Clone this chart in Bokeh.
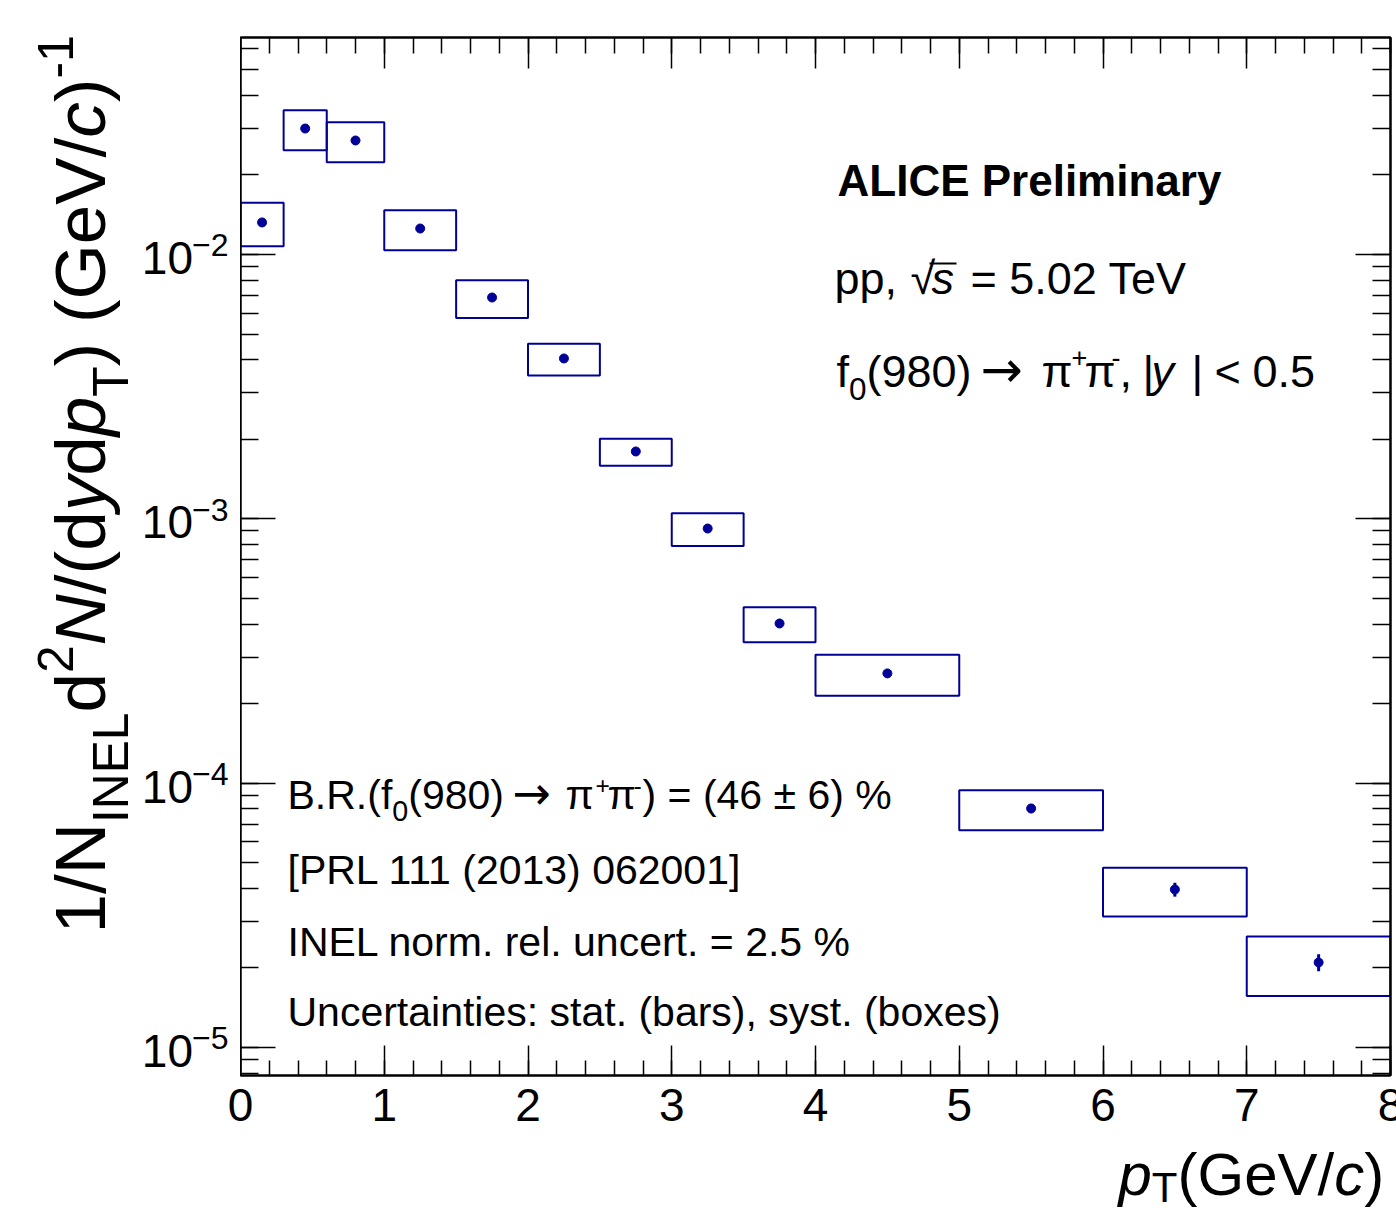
import math
from bokeh.plotting import figure
from bokeh.layouts import row, column
from bokeh.models import (Label, LinearAxis, LogAxis, SingleIntervalTicker,
                          LogTicker, ColumnDataSource, CustomJSTickFormatter,
                          BoxAnnotation)
from bokeh.embed import file_html
from bokeh.resources import INLINE

# ---------------- data ----------------
pt_lo = [0.0, 0.3, 0.6, 1.0, 1.5, 2.0, 2.5, 3.0, 3.5, 4.0, 5.0, 6.0, 7.0]
pt_hi = [0.3, 0.6, 1.0, 1.5, 2.0, 2.5, 3.0, 3.5, 4.0, 5.0, 6.0, 7.0, 8.0]
yield_val = [1.322e-2, 2.996e-2, 2.700e-2, 1.254e-2, 6.875e-3, 4.042e-3,
             1.798e-3, 9.19e-4, 4.018e-4, 2.601e-4, 8.02e-5, 3.96e-5, 2.097e-5]
stat_err = [2.6e-4, 4.5e-4, 4.0e-4, 1.9e-4, 1.0e-4, 6.5e-5,
            3.0e-5, 3.2e-5, 8.0e-6, 5.0e-6, 3.2e-6, 2.4e-6, 1.55e-6]
syst_err = [2.48e-3, 5.16e-3, 4.65e-3, 2.16e-3, 1.12e-3, 5.55e-4,
            2.10e-4, 1.30e-4, 6.07e-5, 4.60e-5, 1.38e-5, 8.3e-6, 5.3e-6]
x_tick_vals = [0, 1, 2, 3, 4, 5, 6, 7, 8]
y_decades = [-5, -4, -3, -2]
X_MIN, X_MAX = 0, 8
Y_MIN, Y_MAX = 7.834e-6, 6.621e-2

BLUE = "#000099"
FONT = "Liberation Sans"
BASE_FIX = 0.38   # empirical baseline correction of Label text (in em)

# Helvetica / Liberation Sans advance widths (em)
W = {' ': .278, '.': .278, ',': .278, ':': .278, '/': .278, '(': .333, ')': .333,
     '[': .278, ']': .278, '=': .584, '+': .584, '-': .333, '<': .584, '|': .26,
     '%': .889, '±': .584, '−': .584, 'π': .55, '→': .838, '√': .55,
     'a': .556, 'b': .556, 'c': .5, 'd': .556, 'e': .556, 'f': .278, 'g': .556,
     'h': .556, 'i': .222, 'j': .222, 'k': .5, 'l': .222, 'm': .833, 'n': .556,
     'o': .556, 'p': .556, 'q': .556, 'r': .333, 's': .5, 't': .278, 'u': .556,
     'v': .5, 'w': .722, 'x': .5, 'y': .5, 'z': .5,
     'A': .667, 'B': .667, 'C': .722, 'D': .722, 'E': .667, 'F': .611, 'G': .778,
     'H': .722, 'I': .278, 'L': .556, 'N': .722, 'P': .667, 'R': .722, 'S': .667,
     'T': .611, 'U': .722, 'V': .667}


def tw(s):
    return sum(W.get(ch, .556) for ch in s)


# ---------------- layout geometry ----------------
TOTAL_W, TOTAL_H = 1396, 1213
LEFT_W = 240
MAIN_W, MAIN_H = TOTAL_W - LEFT_W, 1077
BOTTOM_H = TOTAL_H - MAIN_H
FR_TOP, FR_BOT, FR_RIGHT = 37, 2, 6
FRAME_BOTTOM_PX = MAIN_H - FR_BOT           # 1075 in page pixels
ppu = (MAIN_W - FR_RIGHT) / (X_MAX - X_MIN)
bottom_range = (X_MIN - LEFT_W / ppu, X_MIN + (TOTAL_W - LEFT_W) / ppu)

# ---------------- main figure ----------------
p = figure(width=MAIN_W, height=MAIN_H, x_range=(X_MIN, X_MAX), y_range=(Y_MIN, Y_MAX),
           y_axis_type="log", output_backend="svg", toolbar_location=None,
           min_border_left=0, min_border_right=FR_RIGHT, min_border_top=FR_TOP,
           min_border_bottom=FR_BOT)
p.background_fill_color = "white"
p.border_fill_color = "white"
p.grid.visible = False
p.outline_line_color = "black"
p.outline_line_width = 2


def style_axis(ax, major, minor):
    ax.major_tick_in = major
    ax.major_tick_out = 0
    ax.minor_tick_in = minor
    ax.minor_tick_out = 0
    ax.axis_line_width = 2
    ax.axis_line_color = "black"
    ax.major_tick_line_width = 1.5
    ax.minor_tick_line_width = 1.5
    ax.major_tick_line_color = "black"
    ax.minor_tick_line_color = "black"
    ax.major_label_standoff = 0
    ax.formatter = CustomJSTickFormatter(code="return ''")


xa = p.xaxis[0]
xa.ticker = SingleIntervalTicker(interval=1, num_minor_ticks=5)
style_axis(xa, 30, 15)

ya = p.yaxis[0]
ya.ticker = LogTicker(num_minor_ticks=10)
style_axis(ya, 35, 18)

xt = LinearAxis(ticker=SingleIntervalTicker(interval=1, num_minor_ticks=5))
style_axis(xt, 31, 16)
p.add_layout(xt, "above")

yr = LogAxis(ticker=LogTicker(num_minor_ticks=10))
style_axis(yr, 35, 18)
p.add_layout(yr, "right")

# ---------------- data glyphs ----------------
xc = [(a + b) / 2 for a, b in zip(pt_lo, pt_hi)]
src = ColumnDataSource(dict(
    lo=pt_lo, hi=pt_hi, xc=xc, y=yield_val,
    st=[v + s for v, s in zip(yield_val, syst_err)],
    sb=[v - s for v, s in zip(yield_val, syst_err)],
    eh=[v + s for v, s in zip(yield_val, stat_err)],
    el=[v - s for v, s in zip(yield_val, stat_err)],
))
p.quad(left="lo", right="hi", bottom="sb", top="st", source=src,
       fill_color=None, line_color=BLUE, line_width=2)
p.segment(x0="xc", y0="el", x1="xc", y1="eh", source=src,
          line_color=BLUE, line_width=3)
p.scatter(x="xc", y="y", source=src, size=9, fill_color=BLUE, line_color=BLUE)

# ---------------- side figures (hold the outer texts) ----------------
# left figure: same vertical frame as the main plot (row aligns the frames)
left = figure(width=LEFT_W, height=MAIN_H, x_range=(0, LEFT_W), y_range=(Y_MIN, Y_MAX),
              y_axis_type="log", x_axis_location=None, y_axis_location=None,
              output_backend="svg", toolbar_location=None,
              min_border_left=0, min_border_right=0, min_border_top=FR_TOP,
              min_border_bottom=FR_BOT)
left.grid.visible = False
left.outline_line_color = None

bottom = figure(width=TOTAL_W, height=BOTTOM_H, x_range=bottom_range,
                y_range=(0, BOTTOM_H), x_axis_location=None, y_axis_location=None,
                output_backend="svg", toolbar_location=None, min_border=0)
bottom.grid.visible = False
bottom.outline_line_color = None


# ---------------- text helpers ----------------
def put(fig, text, x, y, size, style="normal", angle=0.0, align="left",
        x_units="screen", y_units="screen", y_offset=0, font=FONT):
    fix = BASE_FIX * size
    xo, yo = (-fix, y_offset) if angle else (0, y_offset + fix)
    fig.add_layout(Label(x=x, y=y, x_units=x_units, y_units=y_units, text=text,
                         text_font=font, text_font_size=f"{size:.1f}px",
                         text_font_style=style, text_color="black", angle=angle,
                         text_align=align, text_baseline="alphabetic",
                         x_offset=xo, y_offset=yo))


def rich(fig, pieces, x0, y0, size, rotated=False):
    cur = y0 if rotated else x0
    for text, opt in pieces:
        scale = opt.get("scale", 1.0)
        shift = opt.get("shift", 0)
        style = opt.get("style", "normal")
        font = opt.get("font", FONT)
        if "at" in opt:
            cur = opt["at"]
        fs = size * scale
        if rotated:
            put(fig, text, x0 - shift, cur, fs, style, angle=math.pi / 2, font=font)
        else:
            put(fig, text, cur, y0 + shift, fs, style, font=font)
        cur += tw(text) * fs


# x tick labels (bottom figure shares the main x mapping)
for v in x_tick_vals:
    put(bottom, str(v), v, TOTAL_H - 1122, 46, align="center", x_units="data")

# y tick labels 10^-n (left figure shares the main y mapping)
for e in y_decades:
    exp_txt = "−" + str(-e)
    put(left, exp_txt, 228, 10.0 ** e, 32, align="right", y_units="data", y_offset=-3)
    put(left, "10", 229 - tw(exp_txt) * 32, 10.0 ** e, 46, align="right",
        y_units="data", y_offset=-21)

# y axis title (screen y measured up from the frame bottom)
IT = {"style": "italic"}
SUB = {"scale": 0.7, "shift": -22}
SUP = {"scale": 0.7, "shift": 33}
rich(left, [("1/N", {}), ("INEL", SUB), ("d", {}), ("2", SUP), ("N", IT),
            ("/(d", {}), ("y", IT), ("d", {}), ("p", IT), ("T", SUB),
            (") (GeV/", {}), ("c", IT), (")", {}), ("-1", SUP)],
     107, FRAME_BOTTOM_PX - 933, 71, rotated=True)

# x axis title
rich(bottom, [("p", IT), ("T", {"scale": 0.7, "shift": -6}), ("(GeV/", {}),
              ("c", IT), (")", {})], 1118, TOTAL_H - 1197, 60)

# top-right block  (screen coords relative to the main frame)
put(p, "ALICE Preliminary", 597, 878, 44, style="bold")
rich(p, [("pp,", {"at": 594}), ("√", {"at": 670}),
         ("s", {"at": 691, "style": "italic"}), ("= 5.02 TeV", {"at": 730})],
     594, 780, 45)
# overline of the square root
p.add_layout(BoxAnnotation(left=689, right=716, bottom=811, top=813,
                           left_units="screen", right_units="screen",
                           bottom_units="screen", top_units="screen",
                           fill_color="black", fill_alpha=1.0, line_color=None))
SUP6 = {"scale": 0.6, "shift": 21}
ARROW = {"font": "DejaVu Sans", "scale": 1.12}
rich(p, [("f", {}), ("0", {"scale": 0.7, "shift": -12}), ("(980)", {}),
         ("→", dict(ARROW, at=740)), ("π", {"at": 801}),
         ("+", dict(SUP6, at=831)), ("π", {"at": 844}), ("-", dict(SUP6, at=871)),
         (",", {"at": 879}), ("|", {"at": 902}), ("y", {"at": 911, "style": "italic"}),
         ("|", {"at": 951}), ("<", {"at": 974}), ("0.5", {"at": 1012})],
     596, 687, 45)

# bottom-left block
SUP5 = {"scale": 0.6, "shift": 16}
rich(p, [("B.R.(f", {}), ("0", {"scale": 0.7, "shift": -11}), ("(980)", {}),
         ("→", dict(ARROW, at=272)), ("π", {"at": 325}),
         ("+", dict(SUP5, at=355)), ("π", {"at": 367}), ("-", dict(SUP5, at=393)),
         (") = (46 ± 6) %", {"at": 402})],
     47, 265, 41)
put(p, "[PRL 111 (2013) 062001]", 47, 190, 41)
put(p, "INEL norm. rel. uncert. = 2.5 %", 47, 118, 41)
put(p, "Uncertainties: stat. (bars), syst. (boxes)", 47, 48, 41)

layout = column(row(left, p), bottom)
open("out.html", "w").write(file_html(layout, INLINE))
